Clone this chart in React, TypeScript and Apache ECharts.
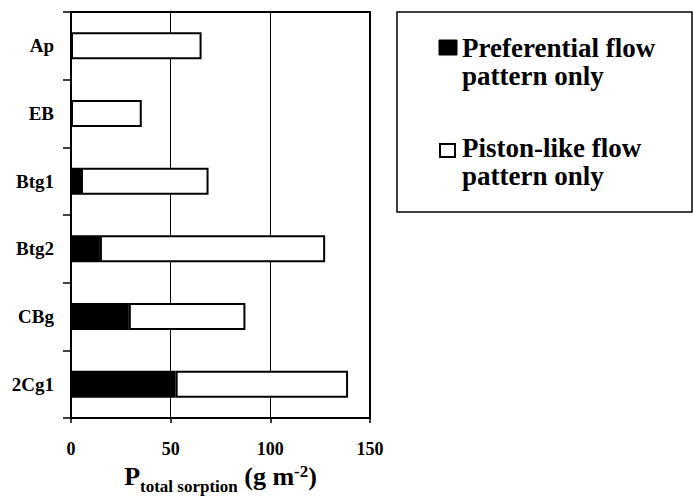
import React, { useEffect, useRef } from "react";
import * as echarts from "echarts";

const categories = ["Ap", "EB", "Btg1", "Btg2", "CBg", "2Cg1"];
const preferentialOnly = [0, 0, 5, 14.5, 29, 52.5];
const pistonLikeOnly = [65.5, 35.5, 64, 113, 58.5, 86.5];
const xTicks = [0, 50, 100, 150];
const legendLabels = [
  ["Preferential flow", "pattern only"],
  ["Piston-like flow", "pattern only"],
];

const FONT = '"Liberation Serif", "Times New Roman", serif';

export default function App() {
  const ref = useRef<HTMLDivElement>(null);
  useEffect(() => {
    if (!ref.current) return;
    const chart = echarts.init(ref.current, undefined, { renderer: "svg" });
    chart.setOption({
      animation: false,
      backgroundColor: "#fff",
      textStyle: { fontFamily: FONT },
      grid: {
        left: 71,
        top: 12,
        right: 323,
        bottom: 80,
        show: true,
        borderColor: "#000",
        borderWidth: 2,
        containLabel: false,
        outerBoundsMode: "none",
      },
      xAxis: {
        type: "value",
        min: xTicks[0],
        max: xTicks[xTicks.length - 1],
        interval: 50,
        axisLine: { show: true, lineStyle: { color: "#000", width: 2 } },
        axisTick: { show: true, length: 5, lineStyle: { color: "#000", width: 1.5 } },
        splitLine: { show: true, lineStyle: { color: "#000", width: 1 } },
        axisLabel: {
          color: "#000",
          fontFamily: FONT,
          fontWeight: "bold",
          fontSize: 18,
          margin: 22,
        },
        name: "{a|P}{sub|total sorption}{a| (g m}{sup|-2}{a|)}",
        nameLocation: "middle",
        nameGap: 44,
        nameTextStyle: {
          padding: [0, 0, 0, 0],
          rich: {
            a: { fontFamily: FONT, fontWeight: "bold", fontSize: 26, color: "#000", lineHeight: 28 },
            sub: {
              fontFamily: FONT,
              fontWeight: "bold",
              fontSize: 17,
              color: "#000",
              lineHeight: 14,
              verticalAlign: "bottom",
              padding: [0, 0, -4, 0],
            },
            sup: {
              fontFamily: FONT,
              fontWeight: "bold",
              fontSize: 17,
              color: "#000",
              lineHeight: 14,
              verticalAlign: "top",
            },
          },
        },
      },
      yAxis: {
        type: "category",
        data: categories,
        inverse: true,
        axisLine: { show: true, lineStyle: { color: "#000", width: 2 } },
        axisTick: { show: true, inside: false, length: 8, lineStyle: { color: "#000", width: 1.5 } },
        axisLabel: {
          color: "#000",
          fontFamily: FONT,
          fontWeight: "bold",
          fontSize: 19,
          margin: 17,
        },
        splitLine: { show: false },
      },
      series: [
        {
          name: "Preferential flow pattern only",
          type: "bar",
          stack: "total",
          barWidth: 27,
          data: preferentialOnly,
          itemStyle: { color: "#000", borderColor: "#000", borderWidth: 2 },
        },
        {
          name: "Piston-like flow pattern only",
          type: "bar",
          stack: "total",
          barWidth: 27,
          data: pistonLikeOnly,
          itemStyle: { color: "#fff", borderColor: "#000", borderWidth: 2 },
        },
      ],
      graphic: [
        {
          type: "rect",
          shape: { x: 397, y: 12, width: 295, height: 200 },
          style: { fill: "#fff", stroke: "#000", lineWidth: 1.5 },
        },
        {
          type: "rect",
          shape: { x: 439, y: 40, width: 18, height: 15 },
          style: { fill: "#000", stroke: "#000", lineWidth: 1 },
        },
        {
          type: "text",
          left: 462,
          top: 34,
          style: {
            text: legendLabels[0].join("\n"),
            font: `bold 27px ${FONT}`,
            fill: "#000",
            lineHeight: 28,
          },
        },
        {
          type: "rect",
          shape: { x: 440, y: 144, width: 15, height: 13 },
          style: { fill: "#fff", stroke: "#000", lineWidth: 2 },
        },
        {
          type: "text",
          left: 462,
          top: 134,
          style: {
            text: legendLabels[1].join("\n"),
            font: `bold 27px ${FONT}`,
            fill: "#000",
            lineHeight: 28,
          },
        },
      ],
    });
    return () => chart.dispose();
  }, []);
  return (
    <div
      ref={ref}
      style={{ position: "fixed", left: 0, top: 0, width: 693, height: 498, background: "#fff" }}
    />
  );
}
